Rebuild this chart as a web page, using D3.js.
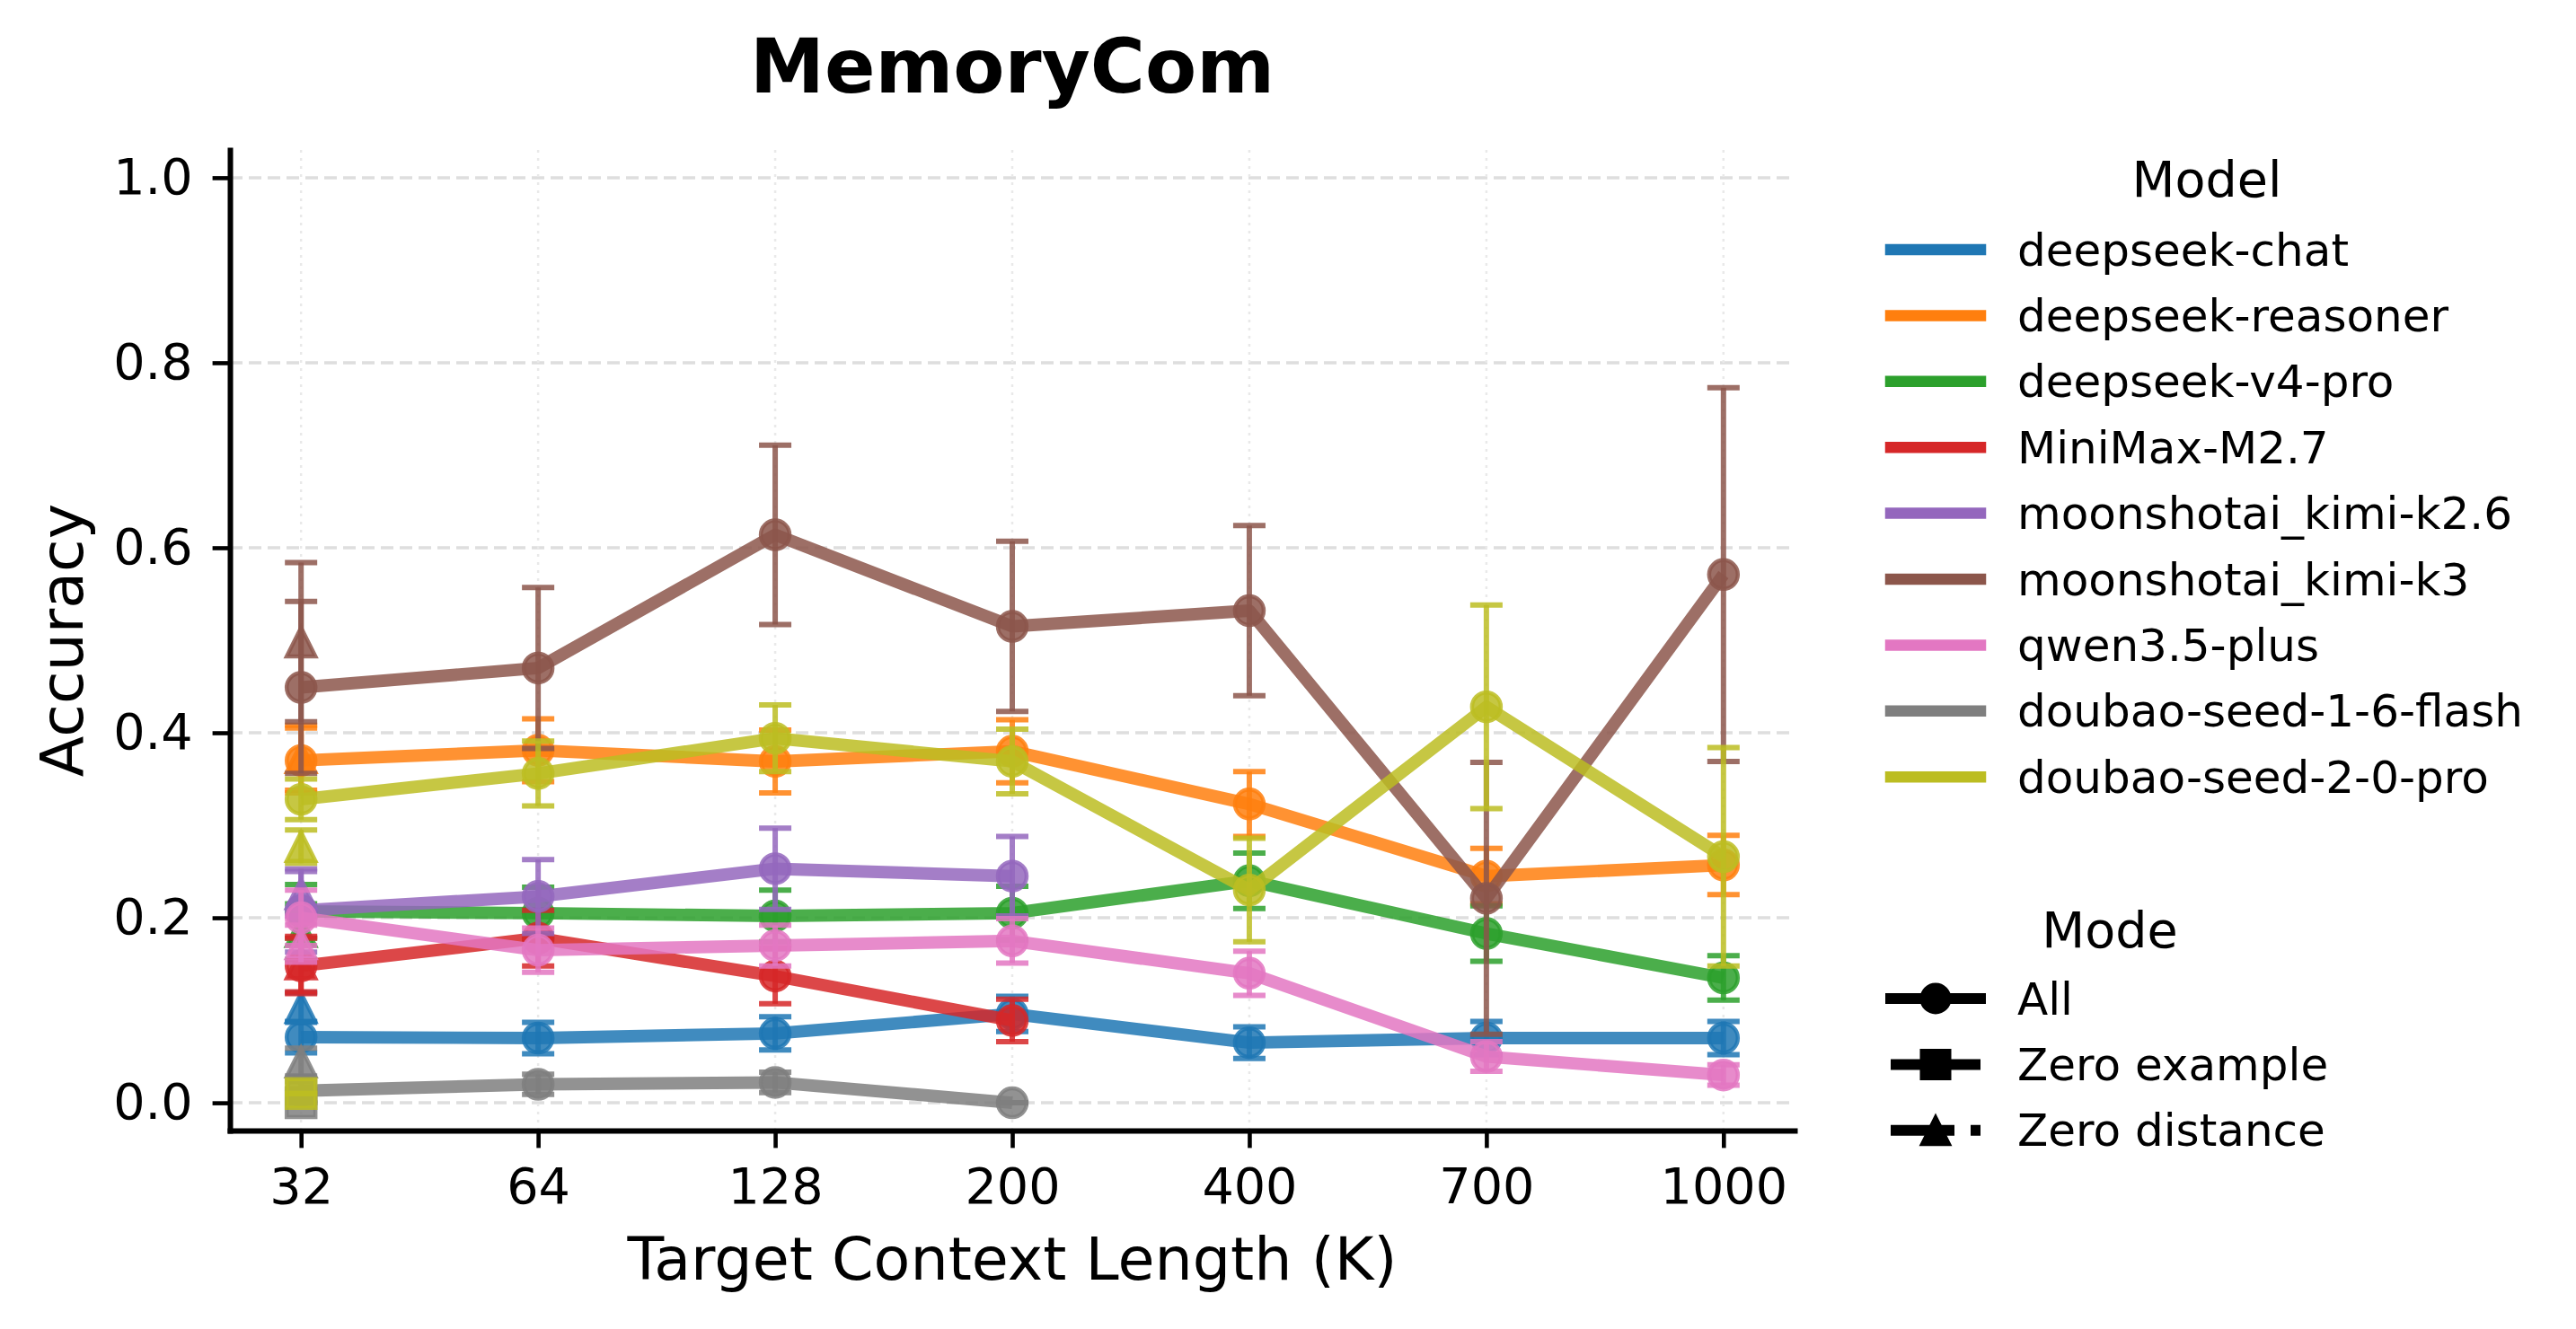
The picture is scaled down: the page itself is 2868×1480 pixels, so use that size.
<!DOCTYPE html>
<html lang="en">
<head>
<meta charset="UTF-8">
<title>MemoryCom</title>
<style>
    body {
        margin: 0;
        background: #fff;
    }
    svg {
        display: block;
        font-family: "DejaVu Sans", sans-serif;
    }
</style>
</head>
<body>
<div id="chart"></div>
<script src="https://d3js.org/d3.v7.min.js"></script>
<script>
    // context lengths on the x axis (K)
    const xLabels = ["32", "64", "128", "200", "400", "700", "1000"];
    const yTicks = [0, 0.2, 0.4, 0.6, 0.8, 1.0];

    const modelNames = [
        "deepseek-chat", "deepseek-reasoner", "deepseek-v4-pro", "MiniMax-M2.7",
        "moonshotai_kimi-k2.6", "moonshotai_kimi-k3", "qwen3.5-plus",
        "doubao-seed-1-6-flash", "doubao-seed-2-0-pro"
    ];
    const modelColors = [
        "#1f77b4", "#ff7f0e", "#2ca02c", "#d62728", "#9467bd",
        "#8c564b", "#e377c2", "#7f7f7f", "#bcbd22"
    ];

    // "All" mode: mean accuracy per context length (null = not run)
    const allMean = [
        [0.071, 0.070, 0.075, 0.096, 0.065, 0.070, 0.070],
        [0.370, 0.381, 0.369, 0.380, 0.323, 0.245, 0.257],
        [0.207, 0.205, 0.202, 0.205, 0.240, 0.183, 0.135],
        [0.148, 0.178, 0.137, 0.089, null, null, null],
        [0.208, 0.223, 0.253, 0.245, null, null, null],
        [0.449, 0.470, 0.614, 0.515, 0.532, 0.221, 0.571],
        [0.200, 0.165, 0.170, 0.175, 0.140, 0.050, 0.030],
        [0.013, 0.020, 0.022, 0.000, null, null, null],
        [0.328, 0.356, 0.394, 0.369, 0.230, 0.428, 0.266]
    ];
    // half width of the error bars
    const allErr = [
        [0.017, 0.017, 0.018, 0.019, 0.017, 0.018, 0.018],
        [0.035, 0.034, 0.034, 0.034, 0.035, 0.030, 0.032],
        [0.029, 0.028, 0.028, 0.029, 0.030, 0.030, 0.024],
        [0.030, 0.030, 0.030, 0.023, null, null, null],
        [0.045, 0.040, 0.044, 0.043, null, null, null],
        [0.093, 0.087, 0.097, 0.092, 0.092, 0.147, 0.202],
        [0.030, 0.024, 0.022, 0.024, 0.024, 0.016, 0.011],
        [0.010, 0.011, 0.011, 0.000, null, null, null],
        [0.022, 0.035, 0.036, 0.035, 0.056, 0.110, 0.118]
    ];

    // single point modes, only run at 32K (index 0)
    const zeroExampleMean = [null, null, null, null, null, null, null, 0.000, 0.010];
    const zeroExampleErr = [null, null, null, null, null, null, null, 0.000, 0.000];
    const zeroDistanceMean = [0.103, 0.373, 0.185, 0.150, 0.226, 0.498, 0.172, 0.044, 0.277];
    const zeroDistanceErr = [0.016, 0.035, 0.030, 0.030, 0.024, 0.086, 0.020, 0.015, 0.018];

    const modeNames = ["All", "Zero example", "Zero distance"];
    const modeShapes = ["circle", "square", "triangle"];
    const modeDashes = [null, "41,18", "71,18,11,18"];

    const width = 2868;
    const height = 1480;
    const plot = { left: 256, right: 1998, top: 167, bottom: 1259 };

    const svg = d3.select("#chart")
        .append("svg")
        .attr("width", width)
        .attr("height", height);

    const x = d3.scaleLinear().domain([-0.3, 6.3]).range([plot.left, plot.right]);
    const y = d3.scaleLinear().domain([-0.03, 1.03]).range([plot.bottom, plot.top]);

    // grid
    svg.append("g")
        .selectAll("line")
        .data(yTicks)
        .enter()
        .append("line")
        .attr("x1", plot.left)
        .attr("x2", plot.right)
        .attr("y1", d => y(d))
        .attr("y2", d => y(d))
        .attr("stroke", "#dedede")
        .attr("stroke-width", 3.5)
        .attr("stroke-dasharray", "14,7");

    svg.append("g")
        .selectAll("line")
        .data(d3.range(xLabels.length))
        .enter()
        .append("line")
        .attr("x1", d => x(d))
        .attr("x2", d => x(d))
        .attr("y1", plot.top)
        .attr("y2", plot.bottom)
        .attr("stroke", "#e9e9e9")
        .attr("stroke-width", 2.5)
        .attr("stroke-dasharray", "3,6");

    function markerPath(shape, s) {
        const h = s / 2;
        if (shape === "square") return `M${-h},${-h}H${h}V${h}H${-h}Z`;
        if (shape === "triangle") return `M0,${-h}L${h},${h}L${-h},${h}Z`;
        return `M${h},0A${h},${h} 0 1,1 ${-h},0A${h},${h} 0 1,1 ${h},0Z`;
    }

    const alpha = 0.85;

    function drawSeries(pts, color, mode) {
        const g = svg.append("g");
        const capHalf = 18;

        // error bars
        pts.forEach(p => {
            const eb = g.append("g")
                .attr("stroke", color)
                .attr("stroke-opacity", alpha)
                .attr("stroke-width", 6);
            eb.append("line")
                .attr("x1", x(p.i)).attr("x2", x(p.i))
                .attr("y1", y(p.v - p.e)).attr("y2", y(p.v + p.e));
            [p.v - p.e, p.v + p.e].forEach(v => {
                eb.append("line")
                    .attr("x1", x(p.i) - capHalf).attr("x2", x(p.i) + capHalf)
                    .attr("y1", y(v)).attr("y2", y(v));
            });
        });

        const line = d3.line().x(d => x(d.i)).y(d => y(d.v));
        g.append("path")
            .datum(pts)
            .attr("d", line)
            .attr("fill", "none")
            .attr("stroke", color)
            .attr("stroke-opacity", alpha)
            .attr("stroke-width", 13.9)
            .attr("stroke-linejoin", "round")
            .attr("stroke-dasharray", modeDashes[mode]);

        g.selectAll(".mk")
            .data(pts)
            .enter()
            .append("path")
            .attr("transform", d => `translate(${x(d.i)},${y(d.v)})`)
            .attr("d", markerPath(modeShapes[mode], 32))
            .attr("fill", color)
            .attr("fill-opacity", alpha)
            .attr("stroke", color)
            .attr("stroke-opacity", alpha)
            .attr("stroke-width", 4.5);
    }

    modelNames.forEach((name, m) => {
        const allPts = allMean[m]
            .map((v, i) => ({ i: i, v: v, e: allErr[m][i] }))
            .filter(d => d.v !== null);
        drawSeries(allPts, modelColors[m], 0);

        if (zeroExampleMean[m] !== null) {
            drawSeries([{ i: 0, v: zeroExampleMean[m], e: zeroExampleErr[m] }], modelColors[m], 1);
        }
        if (zeroDistanceMean[m] !== null) {
            drawSeries([{ i: 0, v: zeroDistanceMean[m], e: zeroDistanceErr[m] }], modelColors[m], 2);
        }
    });

    // axes (left and bottom spines only)
    const xAxis = svg.append("g")
        .attr("transform", `translate(0,${plot.bottom})`)
        .call(d3.axisBottom(x)
            .tickValues(d3.range(xLabels.length))
            .tickFormat(i => xLabels[i])
            .tickSize(19.4)
            .tickSizeOuter(0)
            .tickPadding(22));

    const yAxis = svg.append("g")
        .attr("transform", `translate(${plot.left},0)`)
        .call(d3.axisLeft(y)
            .tickValues(yTicks)
            .tickFormat(d3.format(".1f"))
            .tickSize(19.4)
            .tickSizeOuter(0)
            .tickPadding(22));

    [xAxis, yAxis].forEach(a => {
        a.attr("font-family", "DejaVu Sans, sans-serif").attr("font-size", 55.6);
        a.select(".domain").attr("stroke", "#000").attr("stroke-width", 6).attr("stroke-linecap", "square");
        a.selectAll(".tick line").attr("stroke", "#000").attr("stroke-width", 4.6);
        a.selectAll(".tick text").attr("fill", "#000");
    });

    // title and axis labels
    svg.append("text")
        .attr("x", (plot.left + plot.right) / 2)
        .attr("y", 103)
        .attr("text-anchor", "middle")
        .attr("font-size", 83.3)
        .attr("font-weight", "bold")
        .text("MemoryCom");

    svg.append("text")
        .attr("x", (plot.left + plot.right) / 2)
        .attr("y", 1425)
        .attr("text-anchor", "middle")
        .attr("font-size", 66.7)
        .text("Target Context Length (K)");

    svg.append("text")
        .attr("transform", `translate(92,${(plot.top + plot.bottom) / 2}) rotate(-90)`)
        .attr("text-anchor", "middle")
        .attr("font-size", 66.7)
        .text("Accuracy");

    // legends
    const hx0 = 2105, hx1 = 2205, textX = 2246, rowGap = 73.4;

    const modelLegend = svg.append("g");
    modelLegend.append("text")
        .attr("x", 2457)
        .attr("y", 219)
        .attr("text-anchor", "middle")
        .attr("font-size", 55.6)
        .text("Model");

    modelNames.forEach((name, m) => {
        const cy = 278 + m * rowGap;
        modelLegend.append("line")
            .attr("x1", hx0).attr("x2", hx1)
            .attr("y1", cy).attr("y2", cy)
            .attr("stroke", modelColors[m])
            .attr("stroke-width", 12.5)
            .attr("stroke-linecap", "square");
        modelLegend.append("text")
            .attr("x", textX)
            .attr("y", cy + 17.5)
            .attr("font-size", 50)
            .text(name);
    });

    const modeLegend = svg.append("g");
    modeLegend.append("text")
        .attr("x", 2349)
        .attr("y", 1055)
        .attr("text-anchor", "middle")
        .attr("font-size", 55.6)
        .text("Mode");

    modeNames.forEach((name, k) => {
        const cy = 1112 + k * rowGap;
        modeLegend.append("line")
            .attr("x1", hx0).attr("x2", hx1)
            .attr("y1", cy).attr("y2", cy)
            .attr("stroke", "#000")
            .attr("stroke-width", 12)
            .attr("stroke-linecap", modeDashes[k] ? "butt" : "square")
            .attr("stroke-dasharray", modeDashes[k]);
        modeLegend.append("path")
            .attr("transform", `translate(${(hx0 + hx1) / 2},${cy})`)
            .attr("d", markerPath(modeShapes[k], 32))
            .attr("fill", "#000")
            .attr("stroke", "#000")
            .attr("stroke-width", 3);
        modeLegend.append("text")
            .attr("x", textX)
            .attr("y", cy + 17.5)
            .attr("font-size", 50)
            .text(name);
    });
</script>
</body>
</html>
